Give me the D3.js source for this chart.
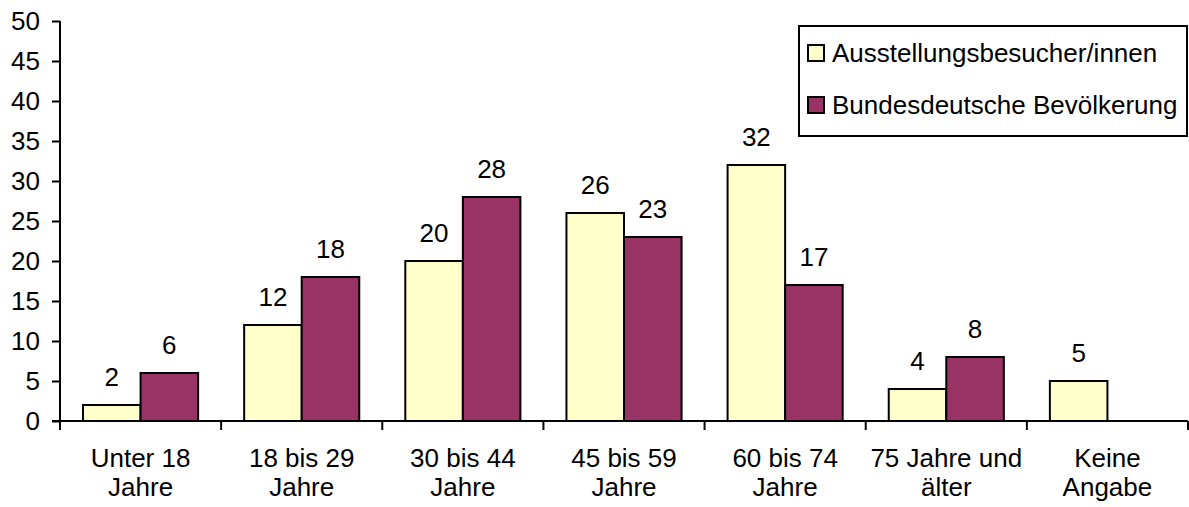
<!DOCTYPE html>
<html>
<head>
<meta charset="utf-8">
<script src="https://cdn.jsdelivr.net/npm/d3@7"></script>
<style>
  html, body { margin: 0; padding: 0; background: #fff; }
  svg { display: block; }
  text { font-family: "Liberation Sans", Arial, sans-serif; fill: #000; }
</style>
</head>
<body>
<svg id="chart" width="1189" height="507"></svg>
<script>
// Age groups (two-line labels)
const categories = [
  ["Unter 18", "Jahre"],
  ["18 bis 29", "Jahre"],
  ["30 bis 44", "Jahre"],
  ["45 bis 59", "Jahre"],
  ["60 bis 74", "Jahre"],
  ["75 Jahre und", "älter"],
  ["Keine", "Angabe"]
];
const seriesNames = ["Ausstellungsbesucher/innen", "Bundesdeutsche Bevölkerung"];
const visitors = [2, 12, 20, 26, 32, 4, 5];
const population = [6, 18, 28, 23, 17, 8, null];
const yTicks = [0, 5, 10, 15, 20, 25, 30, 35, 40, 45, 50];
const colors = ["#FFFFCC", "#993366"];

const svg = d3.select("#chart");
const plot = { left: 60, right: 1188, top: 21, bottom: 421 };
const fontSize = 26;

const y = d3.scaleLinear().domain([0, 50]).range([plot.bottom, plot.top]);
const x0 = d3.scaleBand().domain(d3.range(categories.length))
  .range([plot.left, plot.right]).paddingInner(0).paddingOuter(0);
const x1 = d3.scaleBand().domain([0, 1])
  .range([0, x0.bandwidth()]).paddingOuter(0.4).paddingInner(0);

const rows = categories.map((c, i) => ({ i, vals: [visitors[i], population[i]] }));

// Bars
const groups = svg.append("g").selectAll("g").data(rows).join("g")
  .attr("transform", d => `translate(${x0(d.i)},0)`);

groups.selectAll("rect")
  .data(d => d.vals.map((v, s) => ({ v, s })).filter(e => e.v != null))
  .join("rect")
  .attr("x", e => x1(e.s))
  .attr("width", x1.bandwidth())
  .attr("y", e => y(e.v))
  .attr("height", e => y(0) - y(e.v))
  .attr("fill", e => colors[e.s])
  .attr("stroke", "#000")
  .attr("stroke-width", 2);

// Value labels
groups.selectAll("text.val")
  .data(d => d.vals.map((v, s) => ({ v, s })).filter(e => e.v != null))
  .join("text")
  .attr("class", "val")
  .attr("x", e => x1(e.s) + x1.bandwidth() / 2)
  .attr("y", e => y(e.v) - 19)
  .attr("text-anchor", "middle")
  .attr("font-size", fontSize)
  .text(e => e.v);

// Y axis
const yAxis = d3.axisLeft(y).tickValues(yTicks).tickSize(8).tickPadding(12);
const gy = svg.append("g").attr("transform", `translate(${plot.left},0)`).call(yAxis);
gy.select(".domain").attr("d", `M0,${plot.top}V${plot.bottom}`);
gy.selectAll("line, path").attr("stroke", "#000").attr("stroke-width", 2);
gy.selectAll("text").attr("font-size", fontSize)
  .attr("font-family", '"Liberation Sans", Arial, sans-serif').attr("fill", "#000");

// X axis: ticks at category boundaries
const xAxisG = svg.append("g");
xAxisG.append("line")
  .attr("x1", plot.left - 8).attr("x2", plot.right)
  .attr("y1", plot.bottom).attr("y2", plot.bottom)
  .attr("stroke", "#000").attr("stroke-width", 2);
const boundaries = d3.range(categories.length + 1).map(i => plot.left + i * x0.bandwidth());
xAxisG.selectAll("line.tick").data(boundaries).join("line")
  .attr("class", "tick")
  .attr("x1", d => d).attr("x2", d => d)
  .attr("y1", plot.bottom).attr("y2", plot.bottom + 9)
  .attr("stroke", "#000").attr("stroke-width", 2);

// Category labels
const lbl = svg.append("g").selectAll("text").data(categories).join("text")
  .attr("text-anchor", "middle")
  .attr("font-size", fontSize)
  .attr("x", (d, i) => x0(i) + x0.bandwidth() / 2);
lbl.selectAll("tspan").data(d => d).join("tspan")
  .attr("x", function () { return this.parentNode.getAttribute("x"); })
  .attr("y", (d, k) => 467 + k * 29)
  .text(d => d);

// Legend
const legend = svg.append("g");
legend.append("rect")
  .attr("x", 799).attr("y", 26).attr("width", 388).attr("height", 110)
  .attr("fill", "#fff").attr("stroke", "#000").attr("stroke-width", 2);
const items = legend.selectAll("g").data(seriesNames).join("g")
  .attr("transform", (d, i) => `translate(808,${45 + i * 52})`);
items.append("rect")
  .attr("width", 16).attr("height", 16)
  .attr("fill", (d, i) => colors[i])
  .attr("stroke", "#000").attr("stroke-width", 2);
items.append("text")
  .attr("x", 24).attr("y", 17)
  .attr("font-size", fontSize)
  .text(d => d);
</script>
</body>
</html>
